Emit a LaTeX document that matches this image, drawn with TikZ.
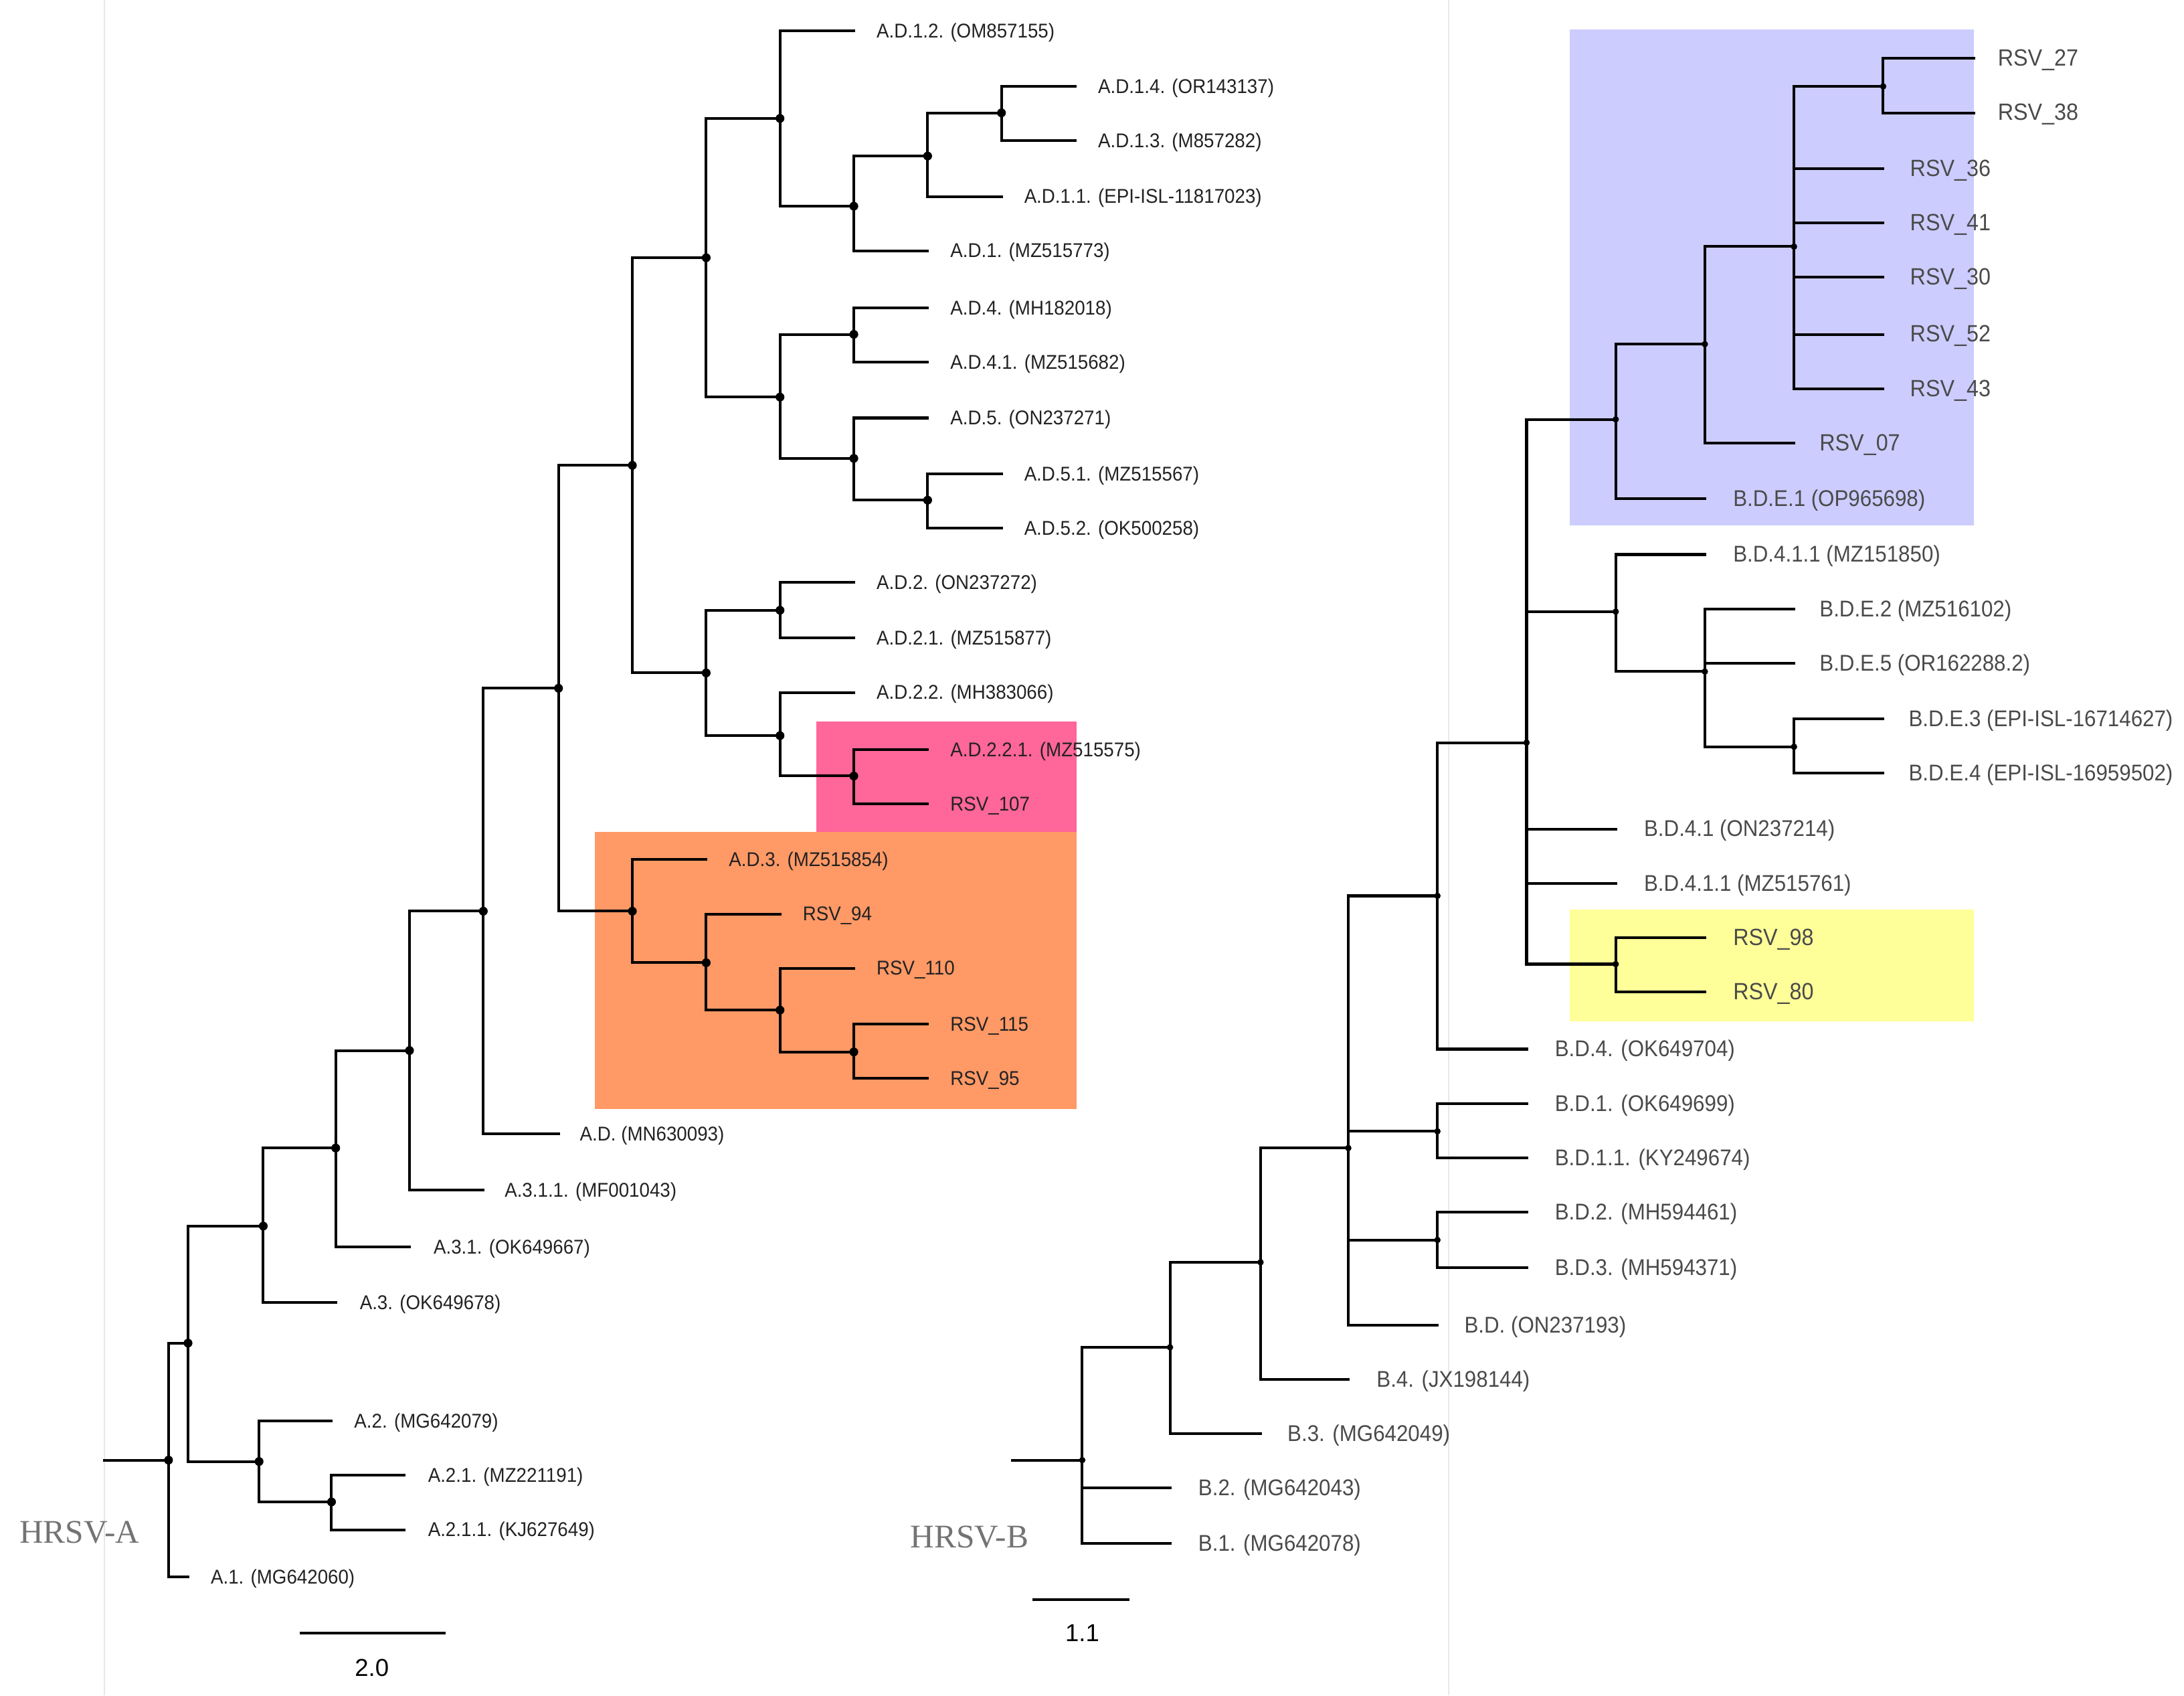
\documentclass[tikz,border=0pt]{standalone}
\usepackage{fontspec}
\setmainfont{Liberation Sans}
\newfontfamily\hsvfont{Liberation Serif}
\newfontfamily\condA[FakeStretch=0.93]{Liberation Sans}
\newfontfamily\condB[FakeStretch=0.92]{Liberation Sans}
\definecolor{pinkbox}{HTML}{FF6699}
\definecolor{orangebox}{HTML}{FF9966}
\definecolor{bluebox}{HTML}{CCCCFF}
\definecolor{yellowbox}{HTML}{FFFF99}
\definecolor{labA}{HTML}{222222}
\definecolor{labB}{HTML}{4A4A4A}
\begin{document}
\begin{tikzpicture}[x=0.02cm,y=-0.02cm,
  br/.style={line width=1.1pt,black,line cap=rect},
  dotA/.style={fill=black},
  labelA/.style={anchor=west,inner sep=0pt,yshift=-0.7pt,text=labA,font=\condA\fontsize{8.15}{9}\selectfont},
  labelB/.style={anchor=west,inner sep=0pt,yshift=-0.7pt,text=labB,font=\condB\fontsize{9.3}{10}\selectfont},
  rsvB/.style={anchor=west,inner sep=0pt,yshift=-0.7pt,text=labB,font=\condB\fontsize{9.6}{10}\selectfont},
  hrsv/.style={text=black!55,font=\hsvfont\fontsize{13.5}{15}\selectfont,inner sep=0pt},
  scalelab/.style={font=\fontsize{10}{12}\selectfont,inner sep=0pt},
  panelline/.style={draw=black!9,line width=0.6pt}]
\useasboundingbox (0,0) rectangle (1568,1217);
% panel borders
\coordinate (pl1) at (75,0); \coordinate (pl2) at (75,1217);
\coordinate (pr1) at (1040,0); \coordinate (pr2) at (1040,1217);
\draw[panelline] (pl1) -- (pl2);
\draw[panelline] (pr1) -- (pr2);
% highlight boxes
\fill[pinkbox] (586,518) rectangle (773,597);
\fill[orangebox] (427,597) rectangle (773,796);
\fill[bluebox] (1127,21) rectangle (1417,377);
\fill[yellowbox] (1127,653) rectangle (1417,733);

%================ TREE A ================
\coordinate (rA) at (75,1048);
\coordinate (a0) at (121,1048);
\coordinate (a1) at (135,964);
\coordinate (a2) at (186,1049);
\coordinate (a21) at (238,1078);
\coordinate (a3) at (189,880);
\coordinate (a4) at (241,824);
\coordinate (a5) at (294,754);
\coordinate (a6) at (347,654);
\coordinate (a7) at (401,494);
\coordinate (a8) at (454,654);
\coordinate (a81) at (507,691);
\coordinate (a82) at (560,725);
\coordinate (a83) at (613,755);
\coordinate (a9) at (454,334);
\coordinate (a10) at (507,185);
\coordinate (a11) at (560,85);
\coordinate (a12) at (613,148);
\coordinate (a13) at (666,112);
\coordinate (a14) at (719,81);
\coordinate (a15) at (560,285);
\coordinate (a16) at (613,240);
\coordinate (a17) at (613,329);
\coordinate (a18) at (666,359);
\coordinate (a19) at (507,483);
\coordinate (a20) at (560,438);
\coordinate (a22) at (560,528);
\coordinate (a23) at (613,557);
% leaf tips
\coordinate (tA1) at (135,1132);
\coordinate (tA2) at (238,1020);
\coordinate (tA21) at (290,1059);
\coordinate (tA211) at (290,1098);
\coordinate (tA3) at (241,935);
\coordinate (tA31) at (294,895);
\coordinate (tA311) at (347,854);
\coordinate (tAD) at (401,814);
\coordinate (tAD3) at (507,617);
\coordinate (tR94) at (560,656);
\coordinate (tR110) at (613,695);
\coordinate (tR115) at (666,735);
\coordinate (tR95) at (666,774);
\coordinate (tAD12) at (613,22);
\coordinate (tAD14) at (772,62);
\coordinate (tAD13) at (772,101);
\coordinate (tAD11) at (719,141);
\coordinate (tAD1) at (666,180);
\coordinate (tAD4) at (666,221);
\coordinate (tAD41) at (666,260);
\coordinate (tAD5) at (666,300);
\coordinate (tAD51) at (719,340);
\coordinate (tAD52) at (719,379);
\coordinate (tAD2) at (613,418);
\coordinate (tAD21) at (613,458);
\coordinate (tAD22) at (613,497);
\coordinate (tAD221) at (666,538);
\coordinate (tR107) at (666,577);
% labels
\node[labelA] (lA1) at (151,1132) {A.1. (MG642060)};
\node[labelA] (lA2) at (254,1020) {A.2. (MG642079)};
\node[labelA] (lA21) at (307,1059) {A.2.1. (MZ221191)};
\node[labelA] (lA211) at (307,1098) {A.2.1.1. (KJ627649)};
\node[labelA] (lA3) at (258,935) {A.3. (OK649678)};
\node[labelA] (lA31) at (311,895) {A.3.1. (OK649667)};
\node[labelA] (lA311) at (362,854) {A.3.1.1. (MF001043)};
\node[labelA] (lAD) at (416,814) {A.D. (MN630093)};
\node[labelA] (lAD3) at (523,617) {A.D.3. (MZ515854)};
\node[labelA] (lR94) at (576,656) {RSV\_94};
\node[labelA] (lR110) at (629,695) {RSV\_110};
\node[labelA] (lR115) at (682,735) {RSV\_115};
\node[labelA] (lR95) at (682,774) {RSV\_95};
\node[labelA] (lAD12) at (629,22) {A.D.1.2. (OM857155)};
\node[labelA] (lAD14) at (788,62) {A.D.1.4. (OR143137)};
\node[labelA] (lAD13) at (788,101) {A.D.1.3. (M857282)};
\node[labelA] (lAD11) at (735,141) {A.D.1.1. (EPI-ISL-11817023)};
\node[labelA] (lAD1) at (682,180) {A.D.1. (MZ515773)};
\node[labelA] (lAD4) at (682,221) {A.D.4. (MH182018)};
\node[labelA] (lAD41) at (682,260) {A.D.4.1. (MZ515682)};
\node[labelA] (lAD5) at (682,300) {A.D.5. (ON237271)};
\node[labelA] (lAD51) at (735,340) {A.D.5.1. (MZ515567)};
\node[labelA] (lAD52) at (735,379) {A.D.5.2. (OK500258)};
\node[labelA] (lAD2) at (629,418) {A.D.2. (ON237272)};
\node[labelA] (lAD21) at (629,458) {A.D.2.1. (MZ515877)};
\node[labelA] (lAD22) at (629,497) {A.D.2.2. (MH383066)};
\node[labelA] (lAD221) at (682,538) {A.D.2.2.1. (MZ515575)};
\node[labelA] (lR107) at (682,577) {RSV\_107};
% branches
\draw[br] (rA) -- (a0);
\draw[br] (a0) |- (a1); \draw[br] (a0) |- (tA1);
\draw[br] (a1) |- (a3); \draw[br] (a1) |- (a2);
\draw[br] (a2) |- (tA2); \draw[br] (a2) |- (a21);
\draw[br] (a21) |- (tA21); \draw[br] (a21) |- (tA211);
\draw[br] (a3) |- (a4); \draw[br] (a3) |- (tA3);
\draw[br] (a4) |- (a5); \draw[br] (a4) |- (tA31);
\draw[br] (a5) |- (a6); \draw[br] (a5) |- (tA311);
\draw[br] (a6) |- (a7); \draw[br] (a6) |- (tAD);
\draw[br] (a7) |- (a9); \draw[br] (a7) |- (a8);
\draw[br] (a8) |- (tAD3); \draw[br] (a8) |- (a81);
\draw[br] (a81) |- (tR94); \draw[br] (a81) |- (a82);
\draw[br] (a82) |- (tR110); \draw[br] (a82) |- (a83);
\draw[br] (a83) |- (tR115); \draw[br] (a83) |- (tR95);
\draw[br] (a9) |- (a10); \draw[br] (a9) |- (a19);
\draw[br] (a10) |- (a11); \draw[br] (a10) |- (a15);
\draw[br] (a11) |- (tAD12); \draw[br] (a11) |- (a12);
\draw[br] (a12) |- (a13); \draw[br] (a12) |- (tAD1);
\draw[br] (a13) |- (a14); \draw[br] (a13) |- (tAD11);
\draw[br] (a14) |- (tAD14); \draw[br] (a14) |- (tAD13);
\draw[br] (a15) |- (a16); \draw[br] (a15) |- (a17);
\draw[br] (a16) |- (tAD4); \draw[br] (a16) |- (tAD41);
\draw[br] (a17) |- (tAD5); \draw[br] (a17) |- (a18);
\draw[br] (a18) |- (tAD51); \draw[br] (a18) |- (tAD52);
\draw[br] (a19) |- (a20); \draw[br] (a19) |- (a22);
\draw[br] (a20) |- (tAD2); \draw[br] (a20) |- (tAD21);
\draw[br] (a22) |- (tAD22); \draw[br] (a22) |- (a23);
\draw[br] (a23) |- (tAD221); \draw[br] (a23) |- (tR107);
% dots
\foreach \n in {a0,a1,a2,a21,a3,a4,a5,a6,a7,a8,a81,a82,a83,a9,a10,a11,a12,a13,a14,a15,a16,a17,a18,a19,a20,a22,a23}
  \fill[dotA] (\n) circle (1.8pt);
% label and scale
\node[hrsv] (hA) at (57,1100) {HRSV-A};
\coordinate (sA1) at (215,1172); \coordinate (sA2) at (320,1172);
\draw[br,line cap=butt] (sA1) -- (sA2);
\node[scalelab] (sAl) at (267,1197) {2.0};

%================ TREE B ================
\coordinate (rB) at (727,1048);
\coordinate (b0) at (777,1048);
\coordinate (b1) at (840,967);
\coordinate (b2) at (905,906);
\coordinate (b3) at (968,824);
\coordinate (b4) at (1032,643);
\coordinate (b5) at (1032,812);
\coordinate (b6) at (1032,890);
\coordinate (b7) at (1096,533);
\coordinate (b8) at (1160,301);
\coordinate (b9) at (1160,439);
\coordinate (b10) at (1160,692);
\coordinate (b11) at (1224,482);
\coordinate (b12) at (1288,536);
\coordinate (b13) at (1224,247);
\coordinate (b14) at (1288,177);
\coordinate (b15) at (1352,62);
% tips
\coordinate (tB2) at (840,1068);
\coordinate (tB1) at (840,1108);
\coordinate (tB3) at (905,1029);
\coordinate (tB4) at (968,990);
\coordinate (tBD) at (1032,951);
\coordinate (tBD1) at (1096,792);
\coordinate (tBD11) at (1096,831);
\coordinate (tBD2) at (1096,870);
\coordinate (tBD3) at (1096,910);
\coordinate (tBD4) at (1096,753);
\coordinate (tBD41) at (1160,595);
\coordinate (tBD411b) at (1160,634);
\coordinate (tR98) at (1224,673);
\coordinate (tR80) at (1224,712);
\coordinate (tBD411a) at (1224,398);
\coordinate (tBE2) at (1288,437);
\coordinate (tBE5) at (1288,476);
\coordinate (tBE3) at (1352,516);
\coordinate (tBE4) at (1352,555);
\coordinate (tBE1) at (1224,358);
\coordinate (tR07) at (1288,318);
\coordinate (tR27) at (1417,42);
\coordinate (tR38) at (1417,81);
\coordinate (tR36) at (1352,121);
\coordinate (tR41) at (1352,160);
\coordinate (tR30) at (1352,199);
\coordinate (tR52) at (1352,240);
\coordinate (tR43) at (1352,279);
% labels
\node[labelB] (lB2) at (860,1068) {B.2. (MG642043)};
\node[labelB] (lB1) at (860,1108) {B.1. (MG642078)};
\node[labelB] (lB3) at (924,1029) {B.3. (MG642049)};
\node[labelB] (lB4) at (988,990) {B.4. (JX198144)};
\node[labelB] (lBD) at (1051,951) {B.D. (ON237193)};
\node[labelB] (lBD1) at (1116,792) {B.D.1. (OK649699)};
\node[labelB] (lBD11) at (1116,831) {B.D.1.1. (KY249674)};
\node[labelB] (lBD2) at (1116,870) {B.D.2. (MH594461)};
\node[labelB] (lBD3) at (1116,910) {B.D.3. (MH594371)};
\node[labelB] (lBD4) at (1116,753) {B.D.4. (OK649704)};
\node[labelB] (lBD41) at (1180,595) {B.D.4.1 (ON237214)};
\node[labelB] (lBD411b) at (1180,634) {B.D.4.1.1 (MZ515761)};
\node[rsvB] (lR98) at (1244,673) {RSV\_98};
\node[rsvB] (lR80) at (1244,712) {RSV\_80};
\node[labelB] (lBD411a) at (1244,398) {B.D.4.1.1 (MZ151850)};
\node[labelB] (lBE2) at (1306,437) {B.D.E.2 (MZ516102)};
\node[labelB] (lBE5) at (1306,476) {B.D.E.5 (OR162288.2)};
\node[labelB] (lBE3) at (1370,516) {B.D.E.3 (EPI-ISL-16714627)};
\node[labelB] (lBE4) at (1370,555) {B.D.E.4 (EPI-ISL-16959502)};
\node[labelB] (lBE1) at (1244,358) {B.D.E.1 (OP965698)};
\node[rsvB] (lR07) at (1306,318) {RSV\_07};
\node[rsvB] (lR27) at (1434,42) {RSV\_27};
\node[rsvB] (lR38) at (1434,81) {RSV\_38};
\node[rsvB] (lR36) at (1371,121) {RSV\_36};
\node[rsvB] (lR41) at (1371,160) {RSV\_41};
\node[rsvB] (lR30) at (1371,199) {RSV\_30};
\node[rsvB] (lR52) at (1371,240) {RSV\_52};
\node[rsvB] (lR43) at (1371,279) {RSV\_43};
% branches
\draw[br] (rB) -- (b0);
\draw[br] (b0) |- (b1); \draw[br] (b0) |- (tB2); \draw[br] (b0) |- (tB1);
\draw[br] (b1) |- (b2); \draw[br] (b1) |- (tB3);
\draw[br] (b2) |- (b3); \draw[br] (b2) |- (tB4);
\draw[br] (b3) |- (b4); \draw[br] (b3) |- (b5); \draw[br] (b3) |- (b6); \draw[br] (b3) |- (tBD);
\draw[br] (b5) |- (tBD1); \draw[br] (b5) |- (tBD11);
\draw[br] (b6) |- (tBD2); \draw[br] (b6) |- (tBD3);
\draw[br] (b4) |- (b7); \draw[br] (b4) |- (tBD4);
\draw[br] (b7) |- (b8); \draw[br] (b7) |- (b9); \draw[br] (b7) |- (tBD41);
\draw[br] (b7) |- (tBD411b); \draw[br] (b7) |- (b10);
\draw[br] (b10) |- (tR98); \draw[br] (b10) |- (tR80);
\draw[br] (b9) |- (tBD411a); \draw[br] (b9) |- (b11);
\draw[br] (b11) |- (tBE2); \draw[br] (b11) |- (tBE5); \draw[br] (b11) |- (b12);
\draw[br] (b12) |- (tBE3); \draw[br] (b12) |- (tBE4);
\draw[br] (b8) |- (b13); \draw[br] (b8) |- (tBE1);
\draw[br] (b13) |- (b14); \draw[br] (b13) |- (tR07);
\draw[br] (b14) |- (b15); \draw[br] (b14) |- (tR36); \draw[br] (b14) |- (tR41);
\draw[br] (b14) |- (tR30); \draw[br] (b14) |- (tR52); \draw[br] (b14) |- (tR43);
\draw[br] (b15) |- (tR27); \draw[br] (b15) |- (tR38);
\foreach \n in {b0,b1,b2,b3,b4,b5,b6,b7,b8,b9,b10,b11,b12,b13,b14,b15}
  \fill[dotA] (\n) circle (1.3pt);
\node[hrsv] (hB) at (696,1103) {HRSV-B};
\coordinate (sB1) at (741,1148); \coordinate (sB2) at (811,1148);
\draw[br,line cap=butt] (sB1) -- (sB2);
\node[scalelab] (sBl) at (777,1172) {1.1};
\end{tikzpicture}
\end{document}
